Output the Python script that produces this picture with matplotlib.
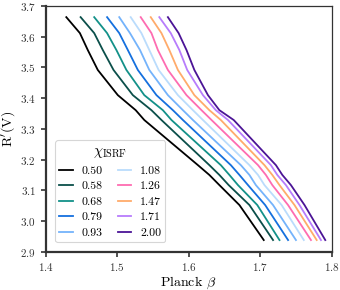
import matplotlib
matplotlib.use("Agg")
import matplotlib.pyplot as plt

plt.rcParams['font.family'] = 'serif'
plt.rcParams['font.serif'] = ['cmr10']
plt.rcParams['mathtext.fontset'] = 'cm'
plt.rcParams['axes.formatter.use_mathtext'] = True

# R' values shared by all curves (top to bottom)
r_vals = [3.664, 3.612, 3.557, 3.492, 3.410, 3.361, 3.329, 3.182, 3.150, 3.117, 3.052, 2.938]

chi = ['0.50', '0.58', '0.68', '0.79', '0.93', '1.08', '1.26', '1.47', '1.71', '2.00']

beta_050 = [1.429, 1.448, 1.459, 1.473, 1.501, 1.526, 1.538, 1.613, 1.629, 1.643, 1.671, 1.705]
beta_058 = [1.449, 1.468, 1.480, 1.495, 1.522, 1.548, 1.562, 1.629, 1.643, 1.656, 1.685, 1.718]
beta_068 = [1.468, 1.486, 1.499, 1.513, 1.538, 1.564, 1.576, 1.645, 1.657, 1.669, 1.696, 1.727]
beta_079 = [1.486, 1.503, 1.515, 1.529, 1.555, 1.578, 1.592, 1.659, 1.671, 1.683, 1.707, 1.739]
beta_093 = [1.503, 1.518, 1.532, 1.545, 1.571, 1.592, 1.606, 1.673, 1.685, 1.694, 1.718, 1.750]
beta_108 = [1.519, 1.534, 1.545, 1.558, 1.585, 1.606, 1.620, 1.685, 1.697, 1.706, 1.730, 1.761]
beta_126 = [1.533, 1.548, 1.557, 1.571, 1.597, 1.618, 1.632, 1.697, 1.708, 1.717, 1.739, 1.771]
beta_147 = [1.547, 1.562, 1.573, 1.585, 1.608, 1.629, 1.645, 1.706, 1.717, 1.727, 1.748, 1.779]
beta_171 = [1.559, 1.575, 1.587, 1.598, 1.620, 1.638, 1.655, 1.715, 1.724, 1.736, 1.755, 1.785]
beta_200 = [1.571, 1.586, 1.597, 1.608, 1.627, 1.643, 1.663, 1.722, 1.731, 1.743, 1.762, 1.791]

betas = [beta_050, beta_058, beta_068, beta_079, beta_093,
         beta_108, beta_126, beta_147, beta_171, beta_200]

colors = ['#000000', '#0b4f4a', '#139189', '#1570de', '#74b3fb',
          '#badcfc', '#fe6cb1', '#ffab6b', '#b77cfc', '#4b1496']

fig = plt.figure(figsize=(3.4, 2.9), dpi=100)
ax = fig.add_axes([0.134, 0.132, 0.8416, 0.847])

for b, c, lab in zip(betas, colors, chi):
    ax.plot(b, r_vals, color=c, lw=1.3, label=lab)

ax.set_xlim(1.4, 1.8)
ax.set_ylim(2.9, 3.7)
ax.set_xticks([1.4, 1.5, 1.6, 1.7, 1.8])
ax.set_yticks([2.9, 3.0, 3.1, 3.2, 3.3, 3.4, 3.5, 3.6, 3.7])
ax.set_xlabel(r'Planck $\beta$', fontsize=10, labelpad=1)
ax.set_ylabel(r"R$^\prime$(V)", fontsize=10, labelpad=2)
ax.tick_params(labelsize=8, direction='out', length=3.5, width=1.2, colors='#333333',
               labelcolor='#333333')

for s in ['left', 'bottom']:
    ax.spines[s].set_linewidth(1.6)
    ax.spines[s].set_color('#333333')
for s in ['top', 'right']:
    ax.spines[s].set_linewidth(0.9)
    ax.spines[s].set_color('#333333')

leg = ax.legend(title=r'$\chi_{\rm ISRF}$', ncol=2, loc='lower left', fontsize=8.5,
                title_fontsize=10.5, frameon=True, fancybox=True, handlelength=1.15,
                handletextpad=0.75, columnspacing=1.25, labelspacing=0.45, borderpad=0.35,
                bbox_to_anchor=(0.013, 0.015))
leg.get_frame().set_edgecolor('#cccccc')
leg.get_frame().set_linewidth(0.8)

fig.savefig('out.png', dpi=100)
